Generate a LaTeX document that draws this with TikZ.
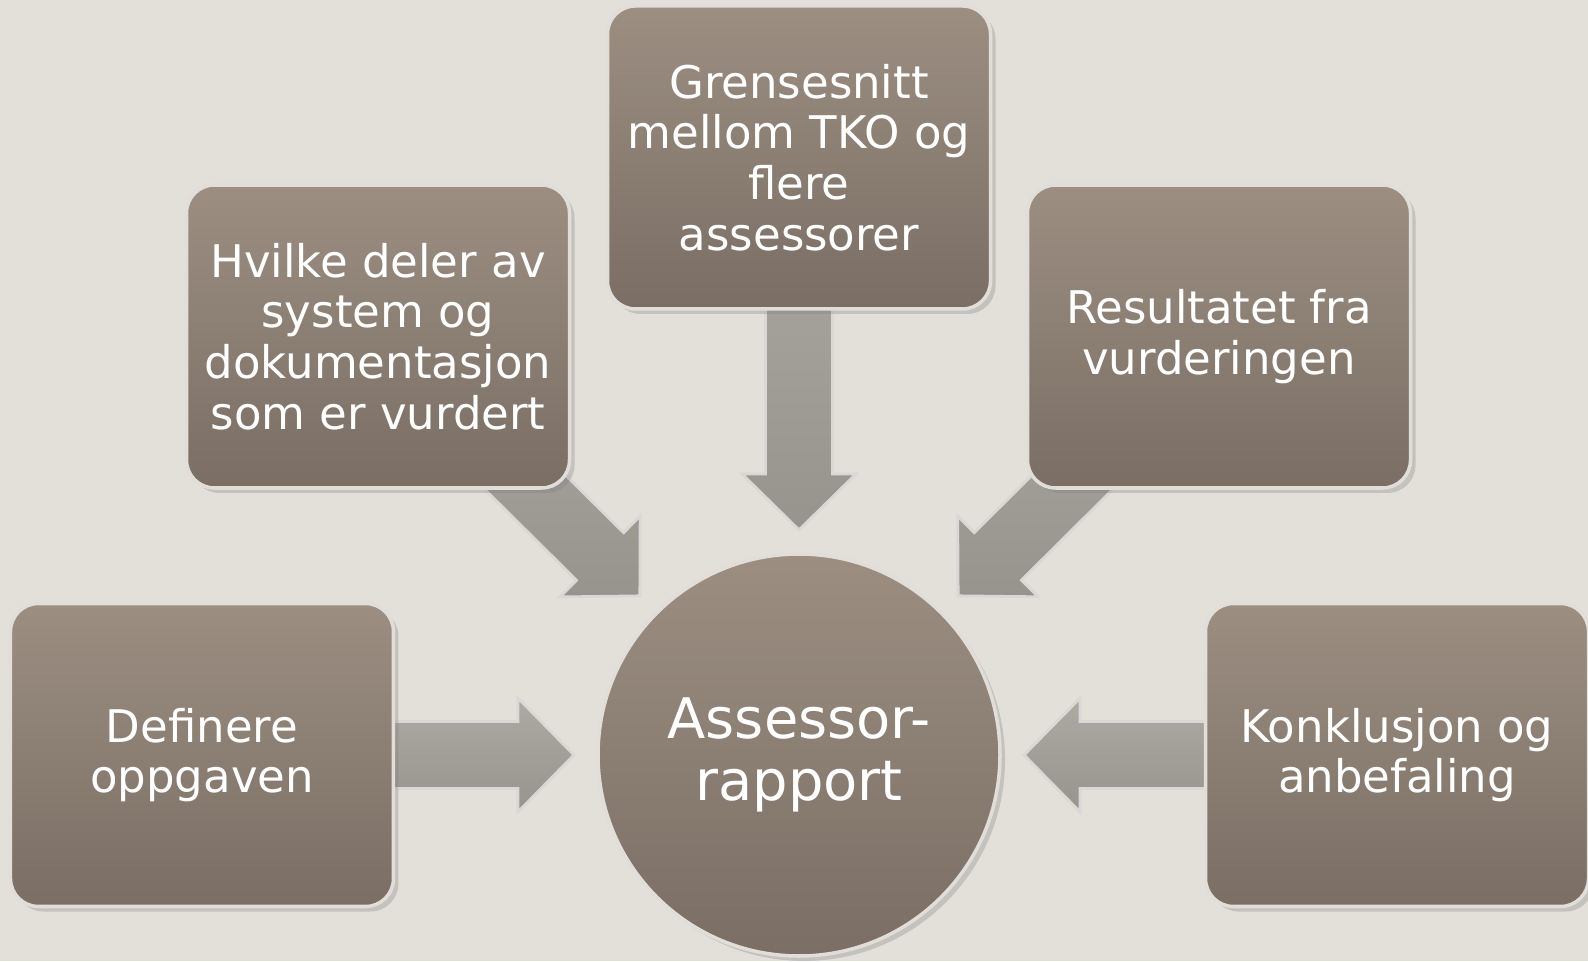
\documentclass[tikz,border=0pt]{standalone}
\usepackage{fontspec}
\setmainfont{DejaVu Sans}
\usepackage{tikz}
\usetikzlibrary{positioning}
\usetikzlibrary{calc}
\usetikzlibrary{shadows}
\definecolor{bgcol}{HTML}{E3DFD9}
\definecolor{boxtop}{HTML}{9C8E81}
\definecolor{boxbot}{HTML}{7A6E65}
\definecolor{arrtop}{HTML}{ADA9A3}
\definecolor{arrbot}{HTML}{97938D}
\pgfdeclarelayer{back}
\pgfsetlayers{back,main}
\tikzset{box/.style={rectangle, rounded corners=0.28cm, minimum width=3.83cm, minimum height=3.03cm,
  top color=boxtop, bottom color=boxbot, draw=white!70!boxtop, line width=1pt,
  text=white, align=center, font=\fontsize{12.8}{14.4}\selectfont,
  drop shadow={opacity=0.3, shadow xshift=0.05cm, shadow yshift=-0.05cm}}}
\tikzset{hub/.style={circle, minimum size=4.02cm, inner sep=0pt,
  top color=boxtop, bottom color=boxbot, draw=white!70!boxtop, line width=1pt,
  text=white, align=center, font=\fontsize{15.9}{17.4}\selectfont,
  drop shadow={opacity=0.3, shadow xshift=0.05cm, shadow yshift=-0.05cm}}}
\tikzset{fatarrow/.style={top color=arrtop, bottom color=arrbot, draw=white!55!arrtop, line width=0.8pt}}

% block arrow from #1 to tip #2
\newcommand{\blockarrow}[2]{%
  \coordinate (hb) at ($(#2)!0.56cm!(#1)$);
  \path[fatarrow] ($(#1)!0.335cm!90:(#2)$) -- ($(hb)!0.335cm!90:(#2)$)
    -- ($(hb)!0.57cm!90:(#2)$) -- (#2) -- ($(hb)!0.57cm!-90:(#2)$)
    -- ($(hb)!0.335cm!-90:(#2)$) -- ($(#1)!0.335cm!-90:(#2)$) -- cycle;
}

\begin{document}
\begin{tikzpicture}[node distance=2cm]
\useasboundingbox (0,0) rectangle (15.88,9.61);

\node[hub] (rap) at (7.99,2.06) {Assessor-\\rapport};
\node[box, left=2.01cm of rap] (def) {Definere\\oppgaven};
\node[box, right=2.02cm of rap] (kon) {Konklusjon og\\anbefaling};
\node[box, above=2.415cm of rap] (gre) {Grensesnitt\\mellom TKO og\\flere\\assessorer};
\node[box] (hvi) at (3.78,6.245) {Hvilke deler av\\system og\\dokumentasjon\\som er vurdert};
\node[box] (res) at (12.19,6.245) {Resultatet fra\\vurderingen};

\begin{pgfonlayer}{back}
\fill[bgcol] (0,0) rectangle (15.88,9.61);
\coordinate (t1) at ($(rap.center)!1.11!(rap.west)$);
\coordinate (t2) at ($(rap.center)!1.11!(rap.north west)$);
\coordinate (t3) at ($(rap.center)!1.11!(rap.north)$);
\coordinate (t4) at ($(rap.center)!1.11!(rap.north east)$);
\coordinate (t5) at ($(rap.center)!1.11!(rap.east)$);
\blockarrow{def.center}{t1}
\blockarrow{hvi.center}{t2}
\blockarrow{gre.center}{t3}
\blockarrow{res.center}{t4}
\blockarrow{kon.center}{t5}
\end{pgfonlayer}
\end{tikzpicture}
\end{document}
